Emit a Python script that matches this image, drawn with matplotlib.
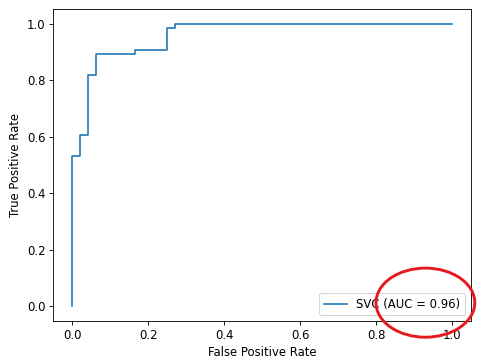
import numpy as np
import matplotlib
matplotlib.use("Agg")
import matplotlib.pyplot as plt
from matplotlib.patches import Ellipse

# ROC points (48 negatives, 66 positives)
fpr = [0.0, 0.0, 1/48, 1/48, 2/48, 2/48, 3/48, 3/48, 8/48, 8/48, 12/48, 12/48, 13/48, 13/48, 1.0]
tpr = [0.0, 35/66, 35/66, 40/66, 40/66, 54/66, 54/66, 59/66, 59/66, 60/66, 60/66, 65/66, 65/66, 1.0, 1.0]
auc = 0.96
model_name = "SVC"

dpi = 78
plt.rcParams["font.size"] = 10.7
fig = plt.figure(figsize=(500 / dpi, 364 / dpi), dpi=dpi)
ax = fig.add_axes([53 / 500, 1 - 321 / 364, 418 / 500, 312 / 364])

ax.plot(fpr, tpr, label=f"{model_name} (AUC = {auc:.2f})")
ax.set_xlim(-0.05, 1.05)
ax.set_ylim(-0.053, 1.053)
ax.set_xlabel("False Positive Rate")
ax.set_ylabel("True Positive Rate")
ax.legend(loc="lower right")

# red circle drawn over the legend
ell = Ellipse((0.93, 0.012), 0.26, 0.245, fill=False, edgecolor="#e51a1f",
              linewidth=2.7, clip_on=False, zorder=10)
ax.add_patch(ell)

fig.savefig("out.png", dpi=dpi)
